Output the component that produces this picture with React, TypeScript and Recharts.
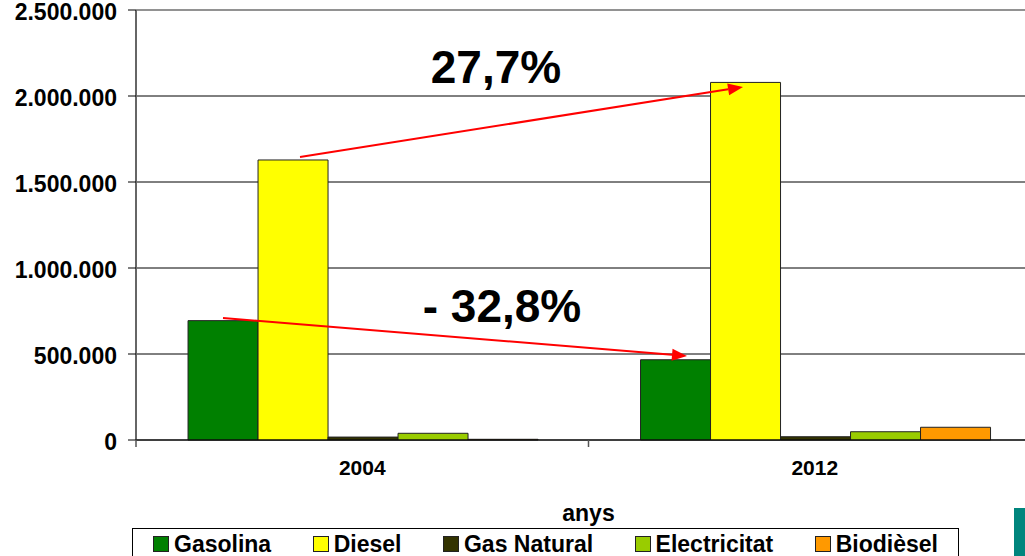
import React from "react";
import {
    BarChart, Bar, XAxis, YAxis, CartesianGrid, Legend, ReferenceLine
} from "recharts";

// Vehicles per fuel type, by year
const YEARS = ['2004', '2012'];
const GASOLINA = [694000, 466500];
const DIESEL = [1628000, 2079000];
const GAS_NATURAL = [17000, 19000];
const ELECTRICITAT = [39000, 48000];
const BIODIESEL = [4000, 74000];
const Y_TICKS = [0, 500000, 1000000, 1500000, 2000000, 2500000];

const SERIES = [
    { key: 'Gasolina', values: GASOLINA, color: '#008000' },
    { key: 'Diesel', values: DIESEL, color: '#FFFF00' },
    { key: 'Gas Natural', values: GAS_NATURAL, color: '#333300' },
    { key: 'Electricitat', values: ELECTRICITAT, color: '#99CC00' },
    { key: 'Biodièsel', values: BIODIESEL, color: '#FF9900' },
];

const rows = YEARS.map((anys, i) => {
    const row: Record<string, string | number> = { anys };
    SERIES.forEach(s => { row[s.key] = s.values[i]; });
    return row;
});

const FONT = '"Liberation Sans", Arial, sans-serif';
const CHART_W = 1041;
const CHART_H = 556;
const Y_AXIS_W = 136;
const BAND = (CHART_W - Y_AXIS_W) / YEARS.length;

const fmt = (v: number) => v.toString().replace(/\B(?=(\d{3})+(?!\d))/g, '.');

function YTick({ x, y, payload }: any) {
    return (
        <text x={x} y={y} dy={10} textAnchor="end" fontFamily={FONT} fontWeight="bold" fontSize={23} fill="#000">
            {fmt(payload.value)}
        </text>
    );
}

// year label at the band centre, tick mark at the band's left edge
function XTick({ x, y, payload }: any) {
    const axisY = y - 20;
    return (
        <g>
            <line x1={x - BAND / 2} x2={x - BAND / 2} y1={axisY} y2={axisY + 7} stroke="#555" strokeWidth={1.5} />
            <text x={x} y={y} dy={15} textAnchor="middle" fontFamily={FONT} fontWeight="bold" fontSize={21} fill="#000">
                {payload.value}
            </text>
        </g>
    );
}

function Arrow({ x1, y1, x2, y2 }: { x1: number; y1: number; x2: number; y2: number }) {
    const len = Math.hypot(x2 - x1, y2 - y1);
    const ux = (x2 - x1) / len;
    const uy = (y2 - y1) / len;
    const hl = 15, hw = 6;
    const bx = x2 - ux * hl, by = y2 - uy * hl;
    return (
        <g>
            <line x1={x1} y1={y1} x2={bx} y2={by} stroke="#FF0000" strokeWidth={2} />
            <polygon
                points={`${x2},${y2} ${bx - uy * hw},${by + ux * hw} ${bx + uy * hw},${by - ux * hw}`}
                fill="#FF0000"
            />
        </g>
    );
}

// change arrows and percentages, drawn over the bars
function Annotations() {
    return (
        <svg width={1025} height={556} style={{ position: 'absolute', left: 0, top: 0, pointerEvents: 'none' }}>
            <g fontFamily={FONT} fontWeight="bold" fontSize={46} fill="#000">
                <Arrow x1={300} y1={157} x2={743} y2={87} />
                <Arrow x1={223} y1={318} x2={687} y2={356} />
                <text x={496} y={83} textAnchor="middle">27,7%</text>
                <text x={502} y={322} textAnchor="middle">- 32,8%</text>
            </g>
        </svg>
    );
}

function LegendBox() {
    return (
        <div style={{
            border: '1px solid #000', height: 40, boxSizing: 'border-box', padding: '2px 20px 0 20px',
            display: 'flex', justifyContent: 'space-between', alignItems: 'flex-start',
            fontFamily: FONT, fontWeight: 'bold', fontSize: 23, color: '#000', background: '#fff'
        }}>
            {SERIES.map(s => (
                <div key={s.key} style={{ display: 'flex', alignItems: 'center', lineHeight: '26px' }}>
                    <span style={{
                        display: 'inline-block', width: 16, height: 16, boxSizing: 'border-box',
                        background: s.color, border: '1px solid #222', marginRight: 5
                    }} />
                    {s.key}
                </div>
            ))}
        </div>
    );
}

export default function App() {
    return (
        <div style={{ position: 'fixed', left: 0, top: 0, width: 1025, height: 556, overflow: 'hidden', background: '#fff' }}>
            <BarChart
                width={CHART_W}
                height={CHART_H}
                data={rows}
                margin={{ top: 10, right: 0, left: 0, bottom: 56 }}
                barCategoryGap="11.5%"
                barGap={0}
            >
                <CartesianGrid vertical={false} stroke="#000" strokeWidth={1} />
                <ReferenceLine y={2500000} stroke="#999" strokeWidth={1.5} />
                <YAxis
                    width={Y_AXIS_W}
                    domain={[0, 2500000]}
                    ticks={Y_TICKS}
                    interval={0}
                    tickSize={8}
                    tickMargin={11}
                    tick={<YTick />}
                    axisLine={{ stroke: '#666', strokeWidth: 2 }}
                    tickLine={{ stroke: '#000' }}
                />
                <XAxis
                    dataKey="anys"
                    height={60}
                    tickSize={0}
                    tickMargin={20}
                    tickLine={false}
                    tick={<XTick />}
                    axisLine={{ stroke: '#000' }}
                    label={{ value: 'anys', position: 'bottom', offset: 5, fontFamily: FONT, fontWeight: 'bold', fontSize: 23, fill: '#000' }}
                />
                {SERIES.map(s => (
                    <Bar
                        key={s.key}
                        dataKey={s.key}
                        name={s.key}
                        fill={s.color}
                        stroke="#222"
                        strokeWidth={1}
                        isAnimationActive={false}
                    />
                ))}
                <Legend
                    layout="vertical"
                    align="center"
                    verticalAlign="middle"
                    content={<LegendBox />}
                    wrapperStyle={{ left: 132, top: 528, width: 827 }}
                />
            </BarChart>
            <Annotations />
            <div style={{ position: 'absolute', left: 1014, top: 508, width: 11, height: 48, background: '#00857D' }} />
        </div>
    );
}
